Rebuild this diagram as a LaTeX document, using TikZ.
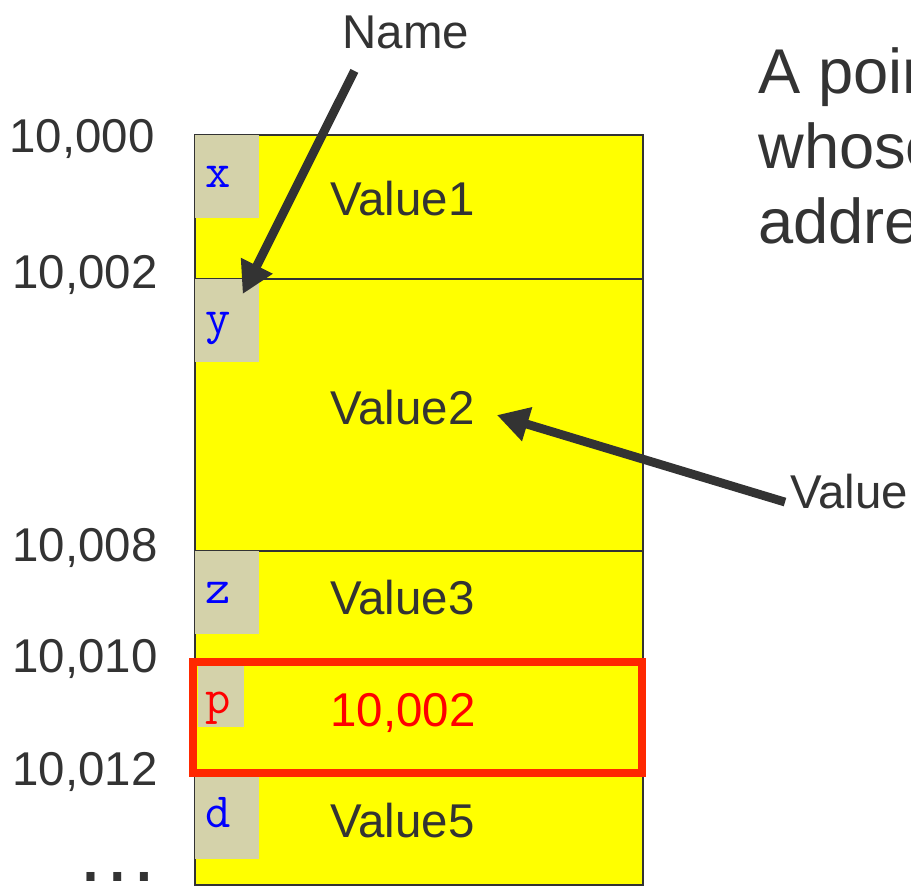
\documentclass[tikz,border=0pt]{standalone}
\usepackage{fontspec}
\setmainfont{Liberation Sans}
\usetikzlibrary{positioning, arrows.meta, calc}

\definecolor{memyellow}{RGB}{255,255,0}
\definecolor{tagbg}{RGB}{212,210,170}
\definecolor{ink}{RGB}{51,51,51}
\definecolor{ptrred}{RGB}{255,40,0}

\begin{document}
\begin{tikzpicture}[x=0.02cm, y=-0.02cm,
		cell/.style={draw=ink, line width=0.9pt, fill=memyellow, minimum width=8.96cm, inner sep=0pt, anchor=north west},
		tag/.style={fill=tagbg, minimum width=1.28cm, minimum height=1.66cm, inner sep=0pt, anchor=north west},
		varname/.style={font=\ttfamily\fontsize{28}{30}\selectfont, text=blue, anchor=base, inner sep=0pt},
		addr/.style={font=\fontsize{27}{32}\selectfont, text=ink, anchor=base east, inner sep=0pt},
		valtext/.style={font=\fontsize{27}{32}\selectfont, text=ink, anchor=base west, inner sep=0pt},
		ptr/.style={draw=ink, line width=5pt, -{Triangle[length=18pt, width=19pt]}}]
		
		\useasboundingbox (0,0) rectangle (911,887);
		\clip (0,0) rectangle (911,887);
		
		% memory cells
		\node[cell, minimum height=2.88cm] at (194,134) (memx) {};
		\node[cell, minimum height=5.44cm] at (194,278) (memy) {};
		\node[cell, minimum height=2.24cm] at (194,550) (memz) {};
		\node[cell, minimum height=2.22cm] at (194,662) (memp) {};
		\node[cell, minimum height=2.22cm] at (194,773) (memd) {};
		
		% name tags
		\node[tag] at (195,135) (tagx) {};
		\node[tag] at (195,279) (tagy) {};
		\node[tag] at (195,551) (tagz) {};
		\node[tag, minimum width=0.92cm, minimum height=1.22cm] at (198,666) (tagp) {};
		\node[tag] at (195,776) (tagd) {};
		
		\node[varname] at (218,187) (namex) {x};
		\node[varname] at (218,333) (namey) {y};
		\node[varname] at (218,603) (namez) {z};
		\node[varname, text=red] at (218,713) (namep) {p};
		\node[varname] at (218,827) (named) {d};
		
		\node[valtext] at (330,215) (value1) {Value1};
		\node[valtext] at (330,424) (value2) {Value2};
		\node[valtext] at (330,614) (value3) {Value3};
		\node[valtext, text=red] at (330,726) (pvalue) {10,002};
		\node[valtext] at (330,837) (value5) {Value5};
		
		% the pointer cell
		\node[draw=ptrred, line width=4.5pt, minimum width=8.98cm, minimum height=2.22cm, inner sep=0pt] at (417.5,717.5) (ptrbox) {};
		
		% addresses
		\node[addr] at (155,152) (a0) {10,000};
		\node[addr] at (158,288) (a2) {10,002};
		\node[addr] at (158,561) (a8) {10,008};
		\node[addr] at (158,672) (a10) {10,010};
		\node[addr] at (158,785) (a12) {10,012};
		\node[addr, font=\fontsize{48}{50}\selectfont] at (160,881) (more) {…};
		
		% labels and arrows
		\node[valtext, anchor=base] at (406,48) (namelbl) {Name};
		\node[valtext] at (790,508) (valuelbl) {Value};
		\node[anchor=base west, align=left, inner sep=0pt, text=ink, font=\fontsize{36}{42.5}\selectfont] at (758,243) (slogan) {A pointer is a variable\\whose value is an\\address};
		
		\coordinate (namefrom) at ($(namelbl.south west)+(12,22)$);
		\coordinate (ytip) at ($(tagy.north east)+(-17,15)$);
		\coordinate (valfrom) at ($(valuelbl.west)+(-5,11)$);
		\coordinate (v2tip) at ($(value2.east)+(22,8)$);
		
		\draw[ptr] (namefrom) -- (ytip);
		\draw[ptr] (valfrom) -- (v2tip);
	\end{tikzpicture}
\end{document}
